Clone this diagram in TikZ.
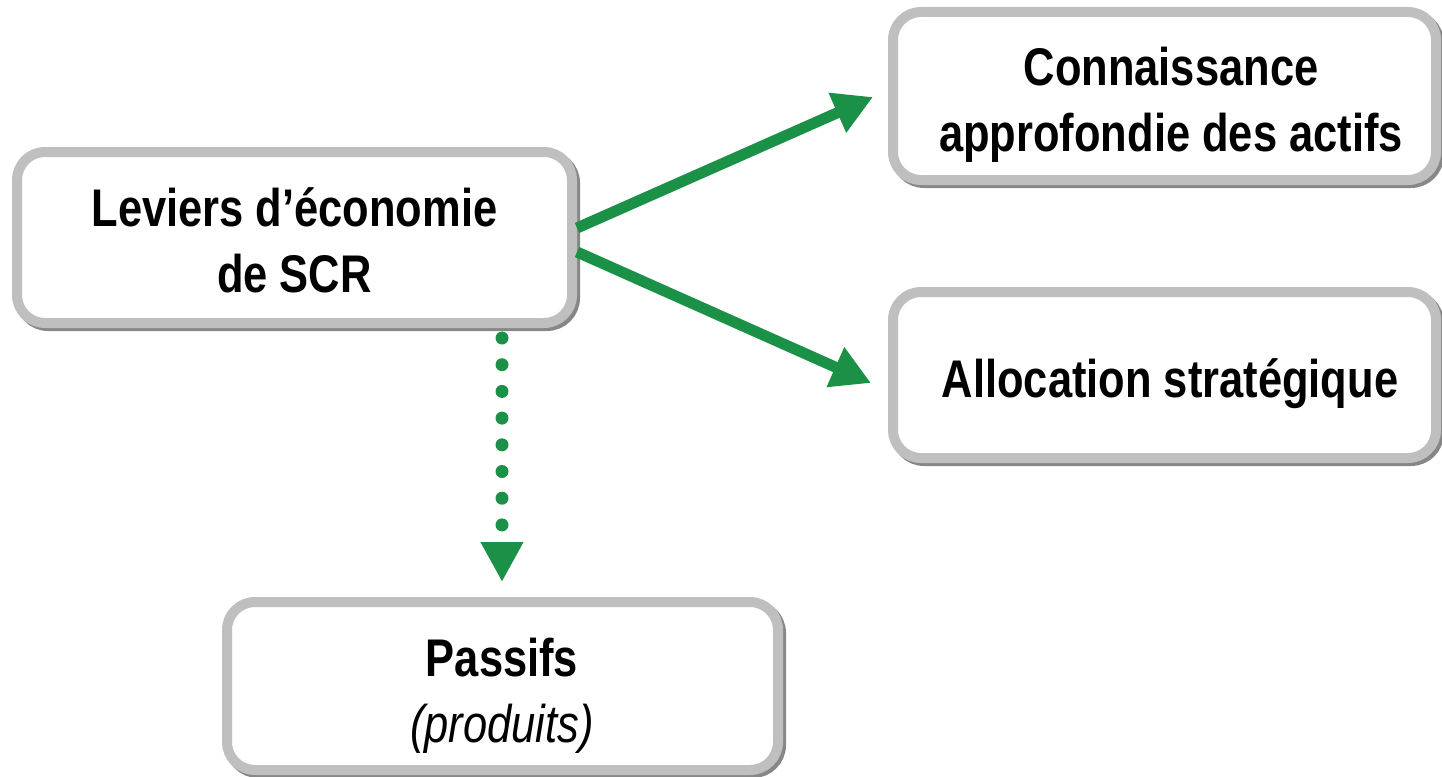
\documentclass[tikz,border=0pt]{standalone}
\usepackage{fontspec}
\setmainfont{Liberation Sans}[FakeStretch=0.82]
\usetikzlibrary{arrows.meta}
\definecolor{boxgray}{RGB}{191,191,191}
\definecolor{shadowgray}{RGB}{135,135,135}
\definecolor{arrowgreen}{RGB}{27,145,71}
\newcommand{\twolines}[2]{\begin{tabular}[t]{@{}c@{}}#1\\#2\end{tabular}}
\tikzset{
  box/.style={draw=boxgray, line width=10pt, fill=white, rounded corners=28pt,
    inner sep=0pt,
    preaction={draw=shadowgray, line width=10pt, transform canvas={shift={(3pt,-3pt)}}}},
  lbl/.style={anchor=base, inner sep=0pt,
    font=\bfseries\fontsize{53}{66}\selectfont},
  greenarrow/.style={draw=arrowgreen, line width=11pt,
    -{Triangle[length=39pt,width=41pt]}},
  dotarrow/.style={draw=arrowgreen, line width=13pt, line cap=round,
    dash pattern=on 0pt off 26.7pt,
    -{Triangle[length=40pt,width=40pt]}}
}
\begin{document}
\begin{tikzpicture}[x=1pt,y=-1pt]
\useasboundingbox (0,0) rectangle (1442,776);
% boxes
\node[box, minimum width=555pt, minimum height=171pt] (A) at (294.5,237.5) {};
\node[box, minimum width=543pt, minimum height=168pt] (B) at (1164.5,96) {};
\node[box, minimum width=543pt, minimum height=166pt] (C) at (1164.5,375) {};
\node[box, minimum width=551pt, minimum height=168pt] (D) at (502.5,686) {};
% texts
\node[lbl] (At) at (294.5,226) {\twolines{Leviers d’économie}{de SCR}};
\node[lbl] (Bt) at (1171,85) {\twolines{Connaissance}{approfondie des actifs}};
\node[lbl] (Ct) at (1170,397) {Allocation stratégique};
\node[lbl] (Dt) at (502,676) {\twolines{Passifs}{{\mdseries\itshape (produits)}}};
% connectors
\coordinate (tipB) at (873,97);
\coordinate (tipC) at (871,383);
\coordinate (tipD) at (502,582);
\draw[greenarrow] (A.east |- 0,228) -- (tipB);
\draw[greenarrow] (A.east |- 0,252) -- (tipC);
\draw[dotarrow, shorten <=10pt] (A.south -| tipD) -- (tipD);
\end{tikzpicture}
\end{document}
